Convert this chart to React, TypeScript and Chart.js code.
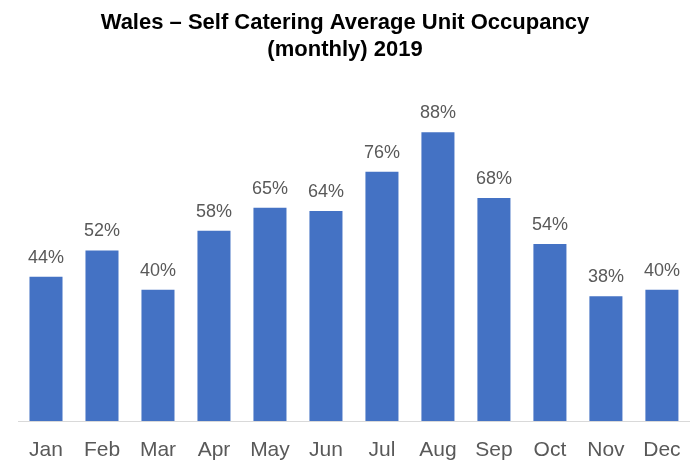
import React, { useEffect, useRef } from "react";
import { Chart, registerables } from "chart.js";

Chart.register(...registerables);

const months = ["Jan", "Feb", "Mar", "Apr", "May", "Jun", "Jul", "Aug", "Sep", "Oct", "Nov", "Dec"];
const occupancy = [44, 52, 40, 58, 65, 64, 76, 88, 68, 54, 38, 40];
const titleLines = ["Wales \u2013 Self Catering Average Unit Occupancy", "(monthly) 2019"];

const FONT = "'Liberation Sans', Arial, Helvetica, sans-serif";

const labelPlugin = {
  id: "barLabels",
  afterDatasetsDraw(chart: any) {
    const ctx = chart.ctx;
    const meta = chart.getDatasetMeta(0);
    ctx.save();
    ctx.font = `18px ${FONT}`;
    ctx.fillStyle = "#595959";
    ctx.textAlign = "center";
    ctx.textBaseline = "alphabetic";
    meta.data.forEach((bar: any, i: number) => {
      ctx.fillText(`${occupancy[i]}%`, bar.x, bar.y - 14);
    });
    ctx.restore();
  },
};

export default function App() {
  const ref = useRef<HTMLCanvasElement>(null);
  useEffect(() => {
    if (!ref.current) return;
    const chart = new Chart(ref.current, {
      type: "bar",
      data: {
        labels: months,
        datasets: [
          {
            data: occupancy,
            backgroundColor: "#4472C4",
            borderWidth: 0,
            categoryPercentage: 1,
            barPercentage: 0.59,
          },
        ],
      },
      options: {
        animation: false,
        responsive: true,
        maintainAspectRatio: false,
        layout: { padding: { left: 0, right: 10, top: 0, bottom: 0 } },
        plugins: {
          legend: { display: false },
          tooltip: { enabled: false },
          title: {
            display: true,
            text: titleLines,
            color: "#000000",
            font: { family: FONT, size: 22, weight: "bold", lineHeight: 1.25 },
            padding: { top: 9, bottom: 29 },
          },
        },
        scales: {
          x: {
            grid: { display: false, drawTicks: false },
            border: { display: true, color: "#d9d9d9", width: 1 },
            ticks: {
              color: "#595959",
              font: { family: FONT, size: 21, lineHeight: 1.0 },
              padding: 19,
              maxRotation: 0,
            },
            afterFit: (s: any) => {
              s.height = 41;
            },
          },
          y: {
            min: 0,
            max: 100,
            grid: { display: false, drawTicks: false },
            border: { display: false },
            ticks: { display: false },
            afterFit: (s: any) => {
              s.width = 18;
            },
          },
        },
      },
      plugins: [labelPlugin],
    });
    return () => chart.destroy();
  }, []);
  return (
    <div style={{ position: "fixed", left: 0, top: 0, width: 700, height: 462, background: "#fff" }}>
      <canvas ref={ref} />
    </div>
  );
}
